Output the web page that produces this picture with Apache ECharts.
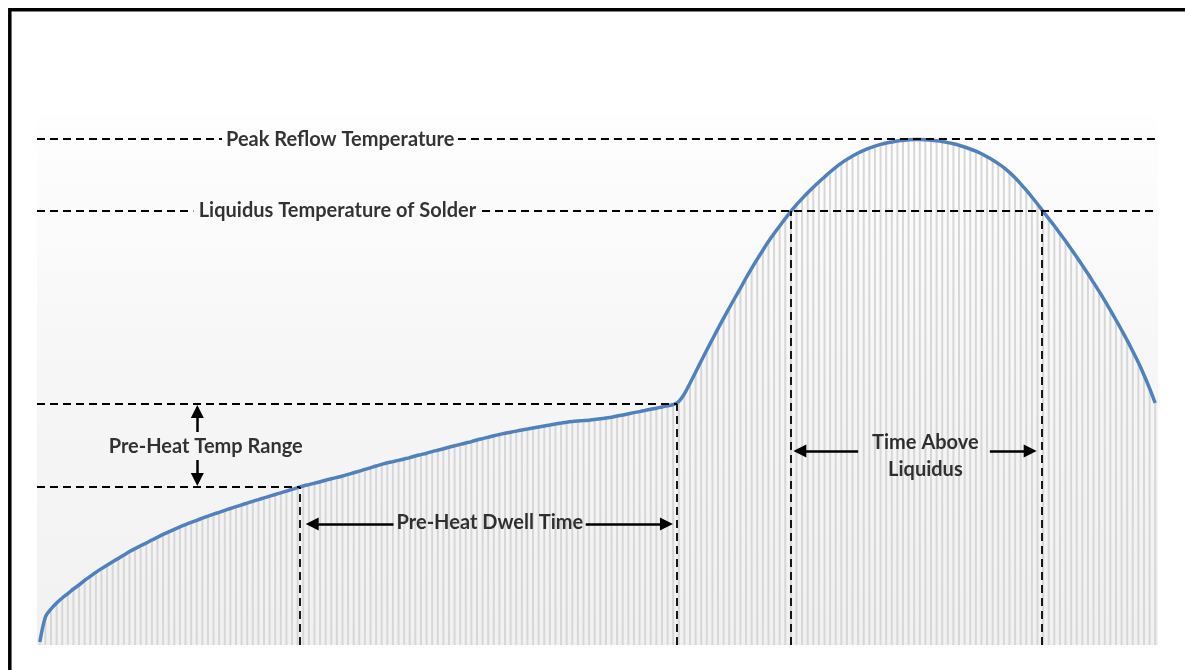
<!DOCTYPE html>
<html>
<head>
<meta charset="utf-8">
<script src="https://cdn.jsdelivr.net/npm/echarts@6/dist/echarts.min.js"></script>
<style>
html,body{margin:0;padding:0;background:#fff;}
#chart{width:1185px;height:670px;}
</style>
</head>
<body>
<div id="chart"></div>
<script>
// Temperature profile, one value per time step (bar + line)
const temps = [
 1.5, 14, 18, 21, 23.5, 25.7, 28, 30, 32.3, 34.3,
 36.3, 38.2, 39.9, 41.6, 43.3, 45, 46.7, 48.2, 49.6, 51,
 52.5, 53.9, 55.3, 56.6, 57.85, 59.05, 60.2, 61.3, 62.35, 63.4,
 64.4, 65.4, 66.35, 67.3, 68.25, 69.15, 70.05, 70.95, 71.85, 72.7,
 73.55, 74.4, 75.25, 76.1, 76.95, 77.8, 78.65, 79.5, 80.2, 80.9,
 81.6, 82.4, 83.1, 83.8, 84.5, 85.3, 86.1, 86.9, 87.8, 88.6,
 89.5, 90.3, 91.1, 91.7, 92.3, 93, 93.7, 94.5, 95.2, 95.9,
 96.7, 97.4, 98.1, 98.9, 99.6, 100.3, 101, 101.7, 102.5, 103.2,
 103.9, 104.6, 105.25, 105.85, 106.4, 106.95, 107.5, 108, 108.5, 109,
 109.5, 110, 110.5, 110.95, 111.4, 111.75, 112, 112.2, 112.4, 112.7,
 113.1, 113.5, 113.9, 114.5, 115, 115.6, 116.2, 116.7, 117.3, 117.9,
 118.4, 119, 119.6, 120.2, 121.8, 125.6, 130.9, 136.4, 142, 147.5,
 152.9, 158.2, 163.4, 168.5, 173.5, 178.4, 183.5, 188.3, 192.9, 197.4,
 201.7, 205.7, 209.5, 213.2, 216.8, 220.2, 223.2, 226.1, 228.9, 231.5,
 234, 236.5, 238.8, 240.9, 242.8, 244.5, 246, 247.3, 248.4, 249.4,
 250.3, 251, 251.5, 252, 252.3, 252.6, 252.7, 252.7, 252.6, 252.4,
 252.1, 251.7, 251.2, 250.6, 249.9, 249, 248, 246.9, 245.6, 244.1,
 242.5, 240.7, 238.7, 236.3, 233.6, 230.6, 227.4, 224, 220.5, 216.8,
 213.2, 209.6, 205.8, 202, 198, 194, 189.8, 185.6, 181.2, 176.8,
 172.2, 167.4, 162.5, 157.5, 152.3, 146.9, 141.2, 135, 128.3, 121
];
// Reference temperature levels
const peakTemp = 253;
const liquidusTemp = 217;
const preheatHigh = 120.5;
const preheatLow = 79;
// Time positions where the profile crosses the levels
const preheatStart = 46.4;
const preheatEnd = 113.7;
const liquidusStart = 133.9;
const liquidusEnd = 178.8;
const tMin = -0.5, tMax = 199.5;

const seriesData = temps.map((v, i) => [i, v]);

const dashStyle = {color: '#000', width: 1.8, type: [8, 5]};
const arrowStyle = {color: '#000', width: 2.5, type: 'solid'};
const FONT = 'Lato';

function seg(x1, y1, x2, y2) { return [{coord: [x1, y1]}, {coord: [x2, y2]}]; }

const labels = [
  {value: [53.6, peakTemp - 0.5], name: 'Peak Reflow Temperature'},
  {value: [53.1, liquidusTemp], name: 'Liquidus Temperature of Solder'},
  {value: [29.6, 99], name: 'Pre-Heat Temp Range'},
  {value: [80.3, 61], name: 'Pre-Heat Dwell Time'},
  {value: [158.0, 94.3], name: 'Time Above\nLiquidus'}
];

const chart = echarts.init(document.getElementById('chart'), null, {renderer: 'canvas'});
chart.setOption({
  animation: false,
  backgroundColor: '#ffffff',
  grid: {
    left: 37, top: 115, width: 1121, height: 530,
    show: true, borderWidth: 0,
    backgroundColor: {type: 'linear', x: 0, y: 0, x2: 0, y2: 1,
      colorStops: [{offset: 0, color: '#fefefe'}, {offset: 0.5, color: '#f6f6f6'}, {offset: 1, color: '#f1f1f1'}]}
  },
  xAxis: {type: 'value', min: tMin, max: tMax, show: false},
  yAxis: {type: 'value', min: 0, max: 265, show: false},
  series: [
    {
      type: 'bar', data: seriesData, barWidth: 2, silent: true,
      itemStyle: {color: '#d7d7d7'}, z: 1
    },
    {
      type: 'line', data: [], silent: true, z: 3,
      markLine: {
        silent: true, symbol: 'none', label: {show: false}, lineStyle: dashStyle,
        data: [
          seg(tMin, peakTemp, 32.5, peakTemp),
          seg(74.6, peakTemp, tMax, peakTemp),
          seg(tMin, liquidusTemp, 27.4, liquidusTemp),
          seg(78.9, liquidusTemp, tMax, liquidusTemp),
          seg(tMin, preheatHigh, preheatEnd, preheatHigh),
          seg(tMin, preheatLow, preheatStart, preheatLow),
          seg(preheatStart, 0, preheatStart, preheatLow),
          seg(preheatEnd, 0, preheatEnd, preheatHigh),
          seg(liquidusStart, 0, liquidusStart, liquidusTemp),
          seg(liquidusEnd, 0, liquidusEnd, liquidusTemp)
        ]
      }
    },
    {
      type: 'line', data: seriesData, symbol: 'none', silent: true, z: 4,
      smooth: 0.3,
      lineStyle: {color: '#4f81bd', width: 3.5}
    },
    {
      type: 'line', data: [], silent: true, z: 5,
      markLine: {
        silent: true, symbol: ['none', 'triangle'], symbolSize: [13, 13],
        label: {show: false}, lineStyle: arrowStyle,
        data: [
          seg(28.1, 106.5, 28.1, 116.8),
          seg(28.1, 92.5, 28.1, 82.8),
          seg(63.1, 60.5, 48.6, 60.5),
          seg(97.4, 60.5, 111.8, 60.5),
          seg(146, 97, 135.6, 97),
          seg(169.5, 97, 176.7, 97)
        ]
      }
    },
    {
      type: 'scatter', data: labels, symbolSize: 0, silent: true, z: 6,
      label: {
        show: true, position: 'inside', formatter: '{b}',
        color: '#000', fontFamily: FONT, fontWeight: 'bold', fontSize: 20,
        lineHeight: 27, align: 'center'
      }
    }
  ],
  graphic: [{
    type: 'rect', silent: true, z: 100,
    shape: {x: 9.8, y: 9.8, width: 1200, height: 700},
    style: {fill: 'none', stroke: '#000', lineWidth: 3.5}
  }]
});
</script>
</body>
</html>
